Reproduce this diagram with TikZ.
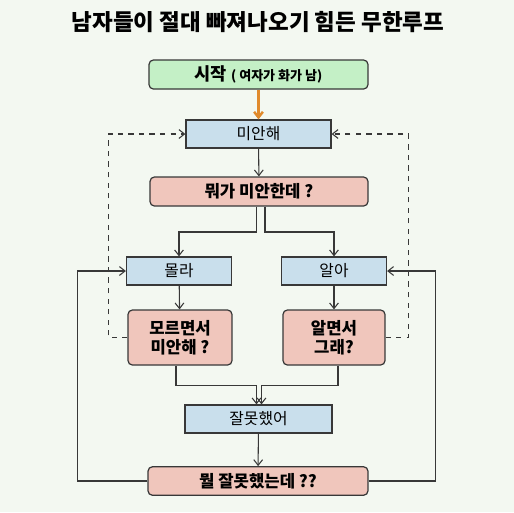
\documentclass[tikz,border=0pt]{standalone}
\usepackage{fontspec}
\setmainfont{Noto Sans CJK KR}
\usetikzlibrary{arrows.meta,positioning}

\definecolor{bgcol}{HTML}{F3F8F1}
\definecolor{linecol}{HTML}{383838}
\definecolor{startfill}{HTML}{C4F0C6}
\definecolor{askfill}{HTML}{C9DFEC}
\definecolor{herfill}{HTML}{F0C6BC}
\definecolor{startarrow}{HTML}{E08A2C}

\tikzset{
  flow/.style={->,line width=0.6pt,draw=linecol},
  askbox/.style={draw=linecol,line width=0.7pt,fill=askfill,minimum height=0.56cm,inner sep=0pt,
    font=\fontsize{9}{10.5}\selectfont},
  herbox/.style={draw=linecol,line width=0.7pt,fill=herfill,rounded corners=2.5pt,inner sep=0pt,
    align=center,font=\fontsize{9.5}{11}\selectfont\bfseries},
}

\begin{document}
\begin{tikzpicture}[x=0.02cm,y=-0.02cm,>={Straight Barb[length=3.2pt,width=5pt]}]
\fill[bgcol] (0,0) rectangle (514,512);
\useasboundingbox (0,0) rectangle (514,512);

\node[font=\fontsize{12.8}{15}\selectfont\bfseries] (title) at (258,22) {남자들이 절대 빠져나오기 힘든 무한루프};

\node[herbox,fill=startfill,minimum width=4.38cm,minimum height=0.58cm] (start) at (258.5,74.5)
  {\fontsize{10}{12}\selectfont 시작 {\fontsize{7.4}{9}\selectfont ( 여자가 화가 남)}};
\node[askbox,minimum width=2.9cm] (sorry) at (258.5,134) {미안해};
\node[herbox,minimum width=4.36cm,minimum height=0.58cm] (what) at (259,191.5) {뭐가 미안한데 ?};
\node[askbox,minimum width=2.1cm] (dunno) at (179,271) {몰라};
\node[askbox,minimum width=2.1cm] (know) at (334,271) {알아};
\node[herbox,minimum width=2.08cm,minimum height=1.1cm] (dunnosorry) at (180,337.5) {모르면서\\미안해 ?};
\node[herbox,minimum width=2.04cm,minimum height=1.1cm] (knowsorry) at (334,337.5) {알면서\\그래?};
\node[askbox,minimum width=2.94cm] (mybad) at (258.5,419) {잘못했어};
\node[herbox,minimum width=4.4cm,minimum height=0.57cm] (whatbad) at (258,481) {뭘 잘못했는데 ??};

\coordinate (split) at (0,232);

% main path
\draw[->,line width=1.4pt,startarrow] (start) -- (sorry);
\draw[flow] (sorry) -- (what);
\draw[flow] ([xshift=-0.05cm]what.south) -- ([xshift=-0.05cm]what.south |- split) -| (dunno.north);
\draw[flow] ([xshift=0.12cm]what.south) -- ([xshift=0.12cm]what.south |- split) -| (know.north);
\draw[flow] (dunno) -- (dunnosorry);
\draw[flow] (know) -- (knowsorry);
\draw[flow] ([xshift=-0.08cm]dunnosorry.south) -- ++(0,-0.4cm) -| ([xshift=-0.04cm]mybad.north);
\draw[flow] ([xshift=0.08cm]knowsorry.south) -- ++(0,-0.4cm) -| ([xshift=0.06cm]mybad.north);
\draw[flow] (mybad) -- (whatbad);

% loops back
\draw[flow,dashed] (dunnosorry.west) -- ++(-0.38cm,0) |- (sorry.west);
\draw[flow,dashed] (knowsorry.east) -- ++(0.46cm,0) |- (sorry.east);
\draw[flow] (whatbad.west) -- ++(-1.4cm,0) |- (dunno.west);
\draw[flow] (whatbad.east) -- ++(1.34cm,0) |- (know.east);
\end{tikzpicture}
\end{document}
